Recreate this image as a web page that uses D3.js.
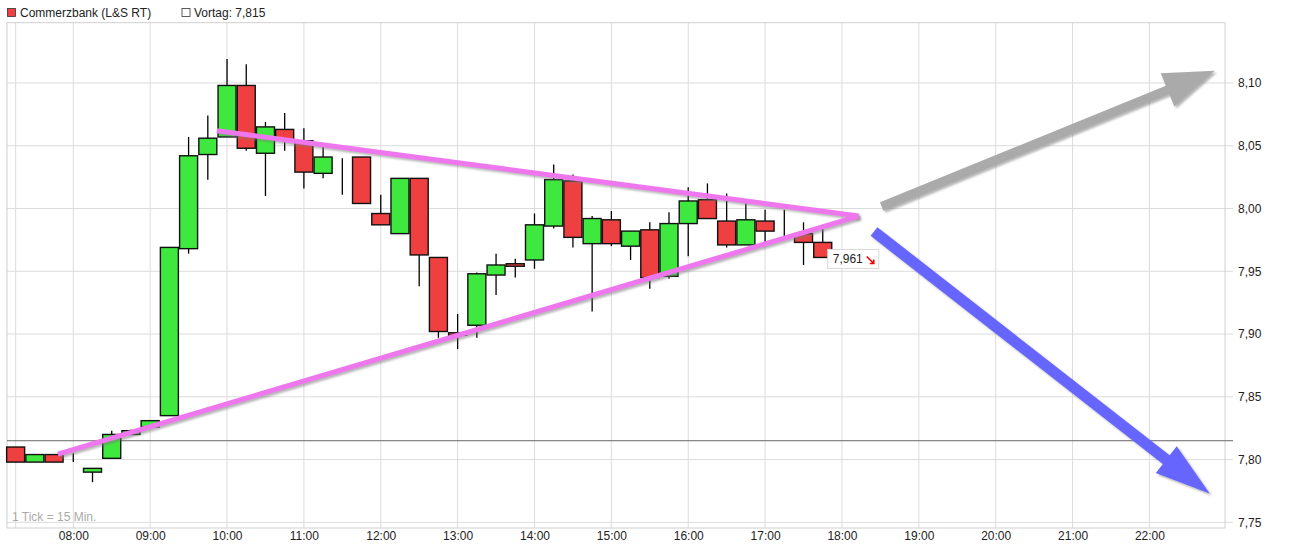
<!DOCTYPE html>
<html>
<head>
<meta charset="utf-8">
<script src="https://cdn.jsdelivr.net/npm/d3@7"></script>
<style>
  html, body { margin: 0; padding: 0; background: #fff; }
  svg { display: block; font-family: "Liberation Sans", Arial, sans-serif; }
</style>
</head>
<body>
<svg id="chart" width="1308" height="548"></svg>
<script>
// ---------- data ----------
const times = ["07:15","07:30","07:45","08:00","08:15","08:30","08:45","09:00","09:15","09:30","09:45",
  "10:00","10:15","10:30","10:45","11:00","11:15","11:30","11:45","12:00","12:15","12:30","12:45",
  "13:00","13:15","13:30","13:45","14:00","14:15","14:30","14:45","15:00","15:15","15:30","15:45",
  "16:00","16:15","16:30","16:45","17:00","17:15","17:30","17:45"];
const openV  = [7.810,7.798,7.804,7.798,7.790,7.801,7.820,7.826,7.835,7.968,8.043,8.057,8.098,8.044,8.063,8.054,8.028,8.040,8.041,7.996,7.980,8.024,7.961,7.901,7.907,7.947,7.956,7.959,7.986,8.022,7.972,7.991,7.970,7.983,7.946,7.988,8.007,7.990,7.971,7.990,7.980,7.980,7.973];
const closeV = [7.798,7.804,7.798,7.798,7.793,7.820,7.823,7.831,7.969,8.042,8.056,8.098,8.048,8.065,8.055,8.029,8.041,8.040,8.004,7.987,8.024,7.963,7.902,7.899,7.948,7.955,7.954,7.987,8.023,7.977,7.992,7.972,7.982,7.945,7.988,8.006,7.992,7.971,7.991,7.982,7.980,7.973,7.961];
const highV  = [7.810,7.804,7.804,7.805,7.793,7.823,7.824,7.831,7.969,8.057,8.074,8.119,8.115,8.069,8.076,8.064,8.049,8.040,8.041,8.011,8.024,8.024,7.961,7.916,7.949,7.964,7.960,7.996,8.035,8.027,7.994,7.998,7.982,7.989,7.997,8.017,8.020,8.012,8.004,7.999,7.999,7.989,7.984];
const lowV   = [7.798,7.798,7.798,7.798,7.782,7.801,7.820,7.826,7.835,7.964,8.023,8.057,8.046,8.010,8.046,8.016,8.024,8.011,8.004,7.987,7.980,7.938,7.897,7.888,7.897,7.931,7.945,7.952,7.984,7.969,7.918,7.970,7.959,7.936,7.944,7.962,7.992,7.969,7.971,7.970,7.976,7.955,7.961];

const xTickLabels = ["08:00","09:00","10:00","11:00","12:00","13:00","14:00","15:00","16:00","17:00","18:00","19:00","20:00","21:00","22:00"];
const extraGridTimes = ["07:15"];
const yTicks = [7.75,7.80,7.85,7.90,7.95,8.00,8.05,8.10];
const prevClose = 7.815;
const lastPrice = 7.961;
const titleText = "Commerzbank (L&S RT)";
const prevText = "Vortag: 7,815";
const tickNote = "1 Tick = 15 Min.";

// trend lines [time, value]
const upperTrend = [["09:52", 8.062], ["18:13", 7.994]];
const lowerTrend = [["07:48", 7.8044], ["18:13", 7.994]];
// arrows [tail, tip]
const grayArrow = [["18:31", 8.0016], ["22:51", 8.1098]];
const blueArrow = [["18:25", 7.9817], ["22:47", 7.773]];

// ---------- setup ----------
const T = s => { const [h, m] = s.split(":").map(Number); return new Date(2020, 0, 2, h, m); };
const svg = d3.select("#chart");
const L = 7, R = 1225, TOP = 22.7, BOT = 528;

const x = d3.scaleTime()
  .domain([new Date(2020,0,2,7,8,15), new Date(2020,0,2,22,59,0)])
  .range([L, R]);
const y = d3.scaleLinear().domain([7.7455, 8.148]).range([BOT, TOP]);

const defs = svg.append("defs");
const f = defs.append("filter").attr("id","sh").attr("x","-20%").attr("y","-20%").attr("width","140%").attr("height","140%");
f.append("feDropShadow").attr("dx",2).attr("dy",2).attr("stdDeviation",1.3)
  .attr("flood-color","#777").attr("flood-opacity",0.55);

// ---------- grid ----------
const grid = svg.append("g");
grid.selectAll("line.h").data(yTicks).enter().append("line")
  .attr("x1", L).attr("x2", R + 8)
  .attr("y1", d => y(d)).attr("y2", d => y(d))
  .attr("stroke", "#dcdcdc").attr("stroke-width", 1);
grid.selectAll("line.v").data(xTickLabels.concat(extraGridTimes)).enter().append("line")
  .attr("x1", d => x(T(d))).attr("x2", d => x(T(d)))
  .attr("y1", TOP).attr("y2", BOT)
  .attr("stroke", "#dcdcdc").attr("stroke-width", 1);
// frame
svg.append("rect").attr("x", L).attr("y", TOP).attr("width", R - L).attr("height", BOT - TOP)
  .attr("fill", "none").attr("stroke", "#d0d0d0").attr("stroke-width", 1);

// ---------- axes labels ----------
const fmt = v => d3.format(".2f")(v).replace(".", ",");
const yAxis = d3.axisRight(y).tickValues(yTicks).tickFormat(fmt).tickSize(0).tickPadding(0);
const gy = svg.append("g").attr("transform", `translate(${R + 13},0)`).call(yAxis);
gy.select(".domain").remove();
gy.selectAll("text").attr("font-size", 12).attr("fill", "#222")
  .attr("font-family", "'Liberation Sans', Arial, sans-serif");

const xAxis = d3.axisBottom(x).tickValues(xTickLabels.map(T)).tickFormat(d3.timeFormat("%H:%M")).tickSize(0).tickPadding(0);
const gx = svg.append("g").attr("transform", `translate(0,${BOT + 3})`).call(xAxis);
gx.select(".domain").remove();
gx.selectAll("text").attr("font-size", 12).attr("fill", "#222").attr("dy", "0.75em")
  .attr("font-family", "'Liberation Sans', Arial, sans-serif");

// previous close line
svg.append("line").attr("x1", L).attr("x2", R + 8)
  .attr("y1", y(prevClose)).attr("y2", y(prevClose))
  .attr("stroke", "#666").attr("stroke-width", 1);

// tick note
svg.append("text").attr("x", 12).attr("y", 521).attr("font-size", 12).attr("fill", "#aaa").text(tickNote);

// ---------- candles ----------
const data = times.map((t, i) => ({ t: T(t), o: openV[i], c: closeV[i], h: highV[i], l: lowV[i] }));
const cw = 18;
const cg = svg.append("g");
cg.selectAll("line.wick").data(data).enter().append("line")
  .attr("x1", d => x(d.t)).attr("x2", d => x(d.t))
  .attr("y1", d => y(d.h)).attr("y2", d => y(d.l))
  .attr("stroke", "#000").attr("stroke-width", 1.3);
cg.selectAll("rect.body").data(data).enter().append("rect")
  .attr("x", d => x(d.t) - cw / 2).attr("width", cw)
  .attr("y", d => y(Math.max(d.o, d.c)))
  .attr("height", d => Math.max(0, Math.abs(y(d.o) - y(d.c))))
  .attr("fill", d => d.c > d.o ? "#3ee83e" : d.c < d.o ? "#ee4040" : "#000")
  .attr("stroke", "#111").attr("stroke-width", 1.4);

// ---------- trend lines ----------
const lineGen = d3.line().x(d => x(T(d[0]))).y(d => y(d[1]));
[upperTrend, lowerTrend].forEach(tr => {
  svg.append("path").attr("d", lineGen(tr)).attr("fill", "none")
    .attr("stroke", "#ee77ee").attr("stroke-width", 5).attr("stroke-linecap", "butt")
    .attr("filter", "url(#sh)");
});

// ---------- arrows ----------
function arrowPts(a, shaft, headLen, headHalf) {
  const x1 = x(T(a[0][0])), y1 = y(a[0][1]), x2 = x(T(a[1][0])), y2 = y(a[1][1]);
  const dx = x2 - x1, dy = y2 - y1, len = Math.hypot(dx, dy);
  const ux = dx / len, uy = dy / len, px = -uy, py = ux;
  const bx = x2 - ux * headLen, by = y2 - uy * headLen;
  const s = shaft / 2;
  return [
    [x1 + px * s, y1 + py * s], [bx + px * s, by + py * s], [bx + px * headHalf, by + py * headHalf],
    [x2, y2],
    [bx - px * headHalf, by - py * headHalf], [bx - px * s, by - py * s], [x1 - px * s, y1 - py * s]
  ];
}
svg.append("polygon").attr("points", arrowPts(grayArrow, 9, 51, 18).map(p => p.join(",")).join(" "))
  .attr("fill", "#aaaaaa").attr("filter", "url(#sh)");
svg.append("polygon").attr("points", arrowPts(blueArrow, 11, 55, 17).map(p => p.join(",")).join(" "))
  .attr("fill", "#6666ff").attr("filter", "url(#sh)");

// ---------- last price label ----------
const last = data[data.length - 1];
const lx = x(last.t) + 5, ly = y(lastPrice) - 8;
const lg = svg.append("g").attr("transform", `translate(${lx},${ly})`);
lg.append("rect").attr("x", 0).attr("y", 0).attr("width", 51).attr("height", 19)
  .attr("fill", "#fff").attr("stroke", "#d8d8d8");
lg.append("text").attr("x", 5).attr("y", 14).attr("font-size", 12).attr("fill", "#222").text(fmt3(lastPrice));
lg.append("path").attr("d", "M39,7 L46,14 M46,10 L46,14 L42,14").attr("stroke", "#e00").attr("stroke-width", 1.6).attr("fill", "none");
function fmt3(v) { return d3.format(".3f")(v).replace(".", ","); }

// ---------- legend ----------
svg.append("rect").attr("x", 7.5).attr("y", 8.5).attr("width", 8).attr("height", 8)
  .attr("fill", "#ee4040").attr("stroke", "#333").attr("stroke-width", 0.8);
svg.append("text").attr("x", 20).attr("y", 17).attr("font-size", 12).attr("fill", "#222").text(titleText);
svg.append("rect").attr("x", 182).attr("y", 8.5).attr("width", 8).attr("height", 8)
  .attr("fill", "#fff").attr("stroke", "#333").attr("stroke-width", 0.8);
svg.append("text").attr("x", 194).attr("y", 17).attr("font-size", 12).attr("fill", "#222").text(prevText);
</script>
</body>
</html>
